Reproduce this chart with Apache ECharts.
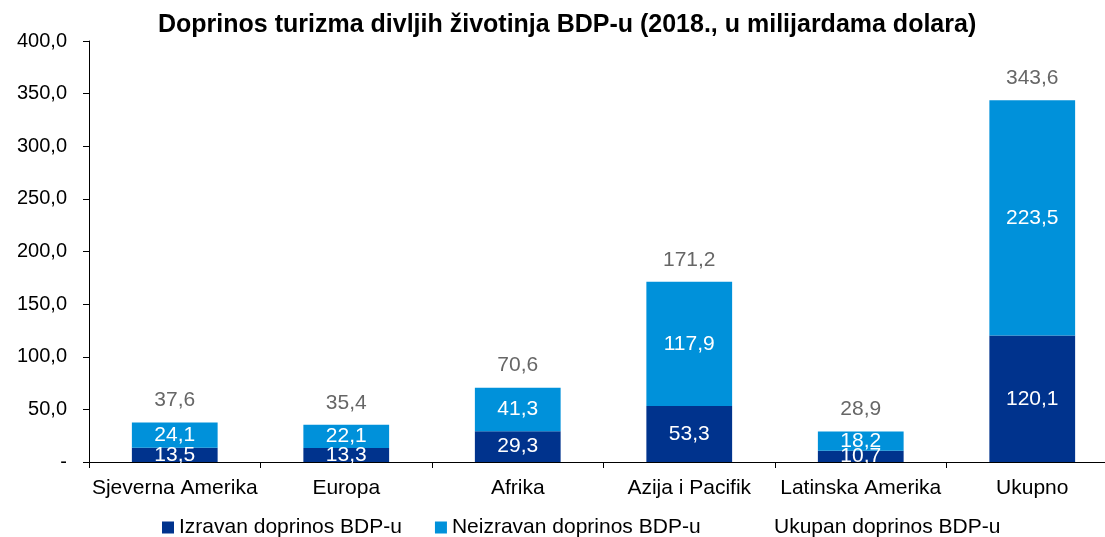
<!DOCTYPE html>
<html>
<head>
<meta charset="utf-8">
<script src="https://cdn.jsdelivr.net/npm/echarts@6/dist/echarts.min.js"></script>
<style>
  html, body { margin: 0; padding: 0; background: #fff; overflow: hidden; }
  /* malo šire od prozora: os x u originalu izlazi preko desnog ruba */
  #chart { width: 1118px; height: 537px; }
</style>
</head>
<body>
<div id="chart"></div>
<script>
// podaci
var categories = ['Sjeverna Amerika', 'Europa', 'Afrika', 'Azija i Pacifik', 'Latinska Amerika', 'Ukupno'];
var izravan = [13.5, 13.3, 29.3, 53.3, 10.7, 120.1];
var neizravan = [24.1, 22.1, 41.3, 117.9, 18.2, 223.5];
var ukupan = [37.6, 35.4, 70.6, 171.2, 28.9, 343.6];

var font = 'Liberation Sans, Arial, sans-serif';

function fmt(v) {
    return v.toFixed(1).replace('.', ',');
}

var chart = echarts.init(document.getElementById('chart'));

var option = {
    animation: false,
    title: {
        text: 'Doprinos turizma divljih životinja BDP-u (2018., u milijardama dolara)',
        left: 158,
        top: 13,
        padding: 0,
        textStyle: { fontFamily: font, fontSize: 25, fontWeight: 'bold', color: '#000' }
    },
    legend: [
        {
            left: 157,
            top: 512,
            itemWidth: 12,
            itemHeight: 12,
            itemGap: 33,
            textStyle: { fontFamily: font, fontSize: 21, color: '#000' },
            data: [
                { name: 'Izravan doprinos BDP-u', icon: 'rect' },
                { name: 'Neizravan doprinos BDP-u', icon: 'rect' }
            ]
        },
        {
            left: 752,
            top: 512,
            itemWidth: 12,
            itemHeight: 12,
            textStyle: { fontFamily: font, fontSize: 21, color: '#000' },
            data: [
                { name: 'Ukupan doprinos BDP-u', icon: 'rect', itemStyle: { opacity: 0 } }
            ]
        }
    ],
    grid: { left: 89, right: 0, top: 41, height: 421 },
    xAxis: {
        type: 'category',
        data: categories,
        axisLine: { lineStyle: { color: '#000', width: 1 } },
        axisTick: { show: true, length: 6, lineStyle: { color: '#000' } },
        axisLabel: { interval: 0, fontFamily: font, fontSize: 21, color: '#000', margin: 16 }
    },
    yAxis: {
        type: 'value',
        min: 0,
        max: 400,
        interval: 50,
        splitLine: { show: false },
        axisLine: { show: true, lineStyle: { color: '#000', width: 1 } },
        axisTick: { show: true, length: 6, lineStyle: { color: '#000' } },
        axisLabel: {
            fontFamily: font, fontSize: 20, color: '#000', margin: 22,
            formatter: function (v) { return v === 0 ? '-' : fmt(v); }
        }
    },
    series: [
        {
            name: 'Izravan doprinos BDP-u',
            type: 'bar',
            stack: 'bdp',
            barWidth: '50%',
            data: izravan,
            itemStyle: { color: '#00338d' },
            label: {
                show: true, position: 'inside', color: '#fff',
                fontFamily: font, fontSize: 21,
                formatter: function (p) { return fmt(p.value); }
            }
        },
        {
            name: 'Neizravan doprinos BDP-u',
            type: 'bar',
            stack: 'bdp',
            barWidth: '50%',
            data: neizravan,
            itemStyle: { color: '#0091da' },
            label: {
                show: true, position: 'inside', color: '#fff',
                fontFamily: font, fontSize: 21,
                formatter: function (p) { return fmt(p.value); }
            }
        },
        {
            name: 'Ukupan doprinos BDP-u',
            type: 'scatter',
            symbolSize: 1,
            data: ukupan,
            itemStyle: { color: 'rgba(255,255,255,0)' },
            label: {
                show: true, position: 'top', distance: 11, color: '#404040',
                fontFamily: font, fontSize: 21,
                formatter: function (p) { return fmt(p.value); }
            }
        }
    ]
};

chart.setOption(option);
</script>
</body>
</html>
